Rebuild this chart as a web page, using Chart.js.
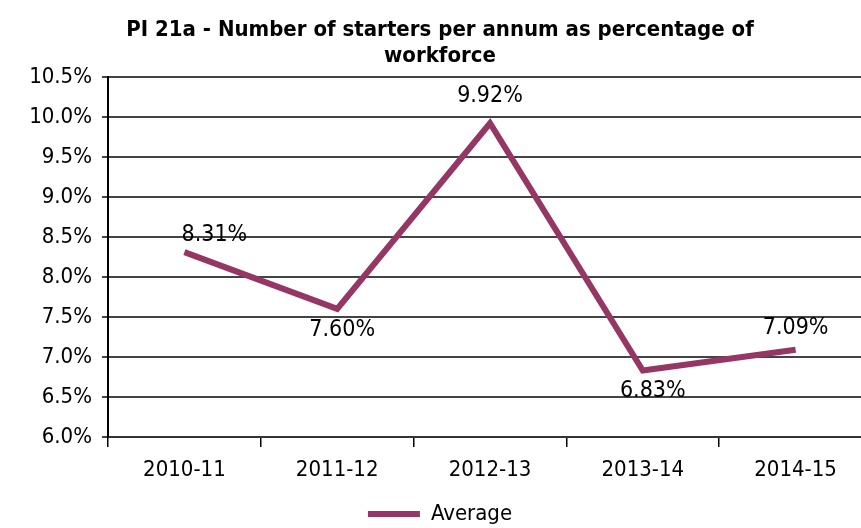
<!DOCTYPE html>
<html><head><meta charset="utf-8">
<script src="https://cdn.jsdelivr.net/npm/chart.js@4"></script>
<style>html,body{margin:0;padding:0;overflow:hidden;background:#fff}#wrap{width:872px;height:528px;position:relative}</style>
</head><body><div id="wrap"><canvas id="c"></canvas></div>
<script>
const categories = ['2010-11','2011-12','2012-13','2013-14','2014-15'];
const averageValues = [8.31, 7.60, 9.92, 6.83, 7.09];
const titleLines = ['PI 21a - Number of starters per annum as percentage of','workforce'];
const FONT = "'DejaVu Sans Condensed','Liberation Sans Narrow',sans-serif";

// label offsets (styling only)
const LABEL_OFFSETS = [[30,-17],[5,21],[0,-27],[10,20],[0,-22]];

const labelPlugin = {
  id: 'vlabels',
  afterDatasetsDraw(chart) {
    const ctx = chart.ctx;
    const meta = chart.getDatasetMeta(0);
    ctx.save();
    ctx.font = '23px ' + FONT;
    ctx.fillStyle = '#000';
    ctx.textAlign = 'center';
    ctx.textBaseline = 'middle';
    meta.data.forEach((pt, i) => {
      const txt = averageValues[i].toFixed(2) + '%';
      const [dx, dy] = LABEL_OFFSETS[i];
      ctx.fillText(txt, pt.x + dx, pt.y + dy);
    });
    ctx.restore();
  }
};

new Chart(document.getElementById('c'), {
  type: 'line',
  data: {
    labels: categories,
    datasets: [{
      label: 'Average',
      data: averageValues,
      borderColor: '#953665',
      backgroundColor: '#953665',
      borderWidth: 6,
      pointRadius: 0,
      tension: 0,
      fill: false
    }]
  },
  options: {
    responsive: true,
    maintainAspectRatio: false,
    animation: false,
    layout: { padding: { left: 8, right: 0, top: 0, bottom: -7 } },
    plugins: {
      title: {
        display: true,
        text: titleLines,
        font: { family: FONT, size: 22, weight: 'bold' },
        color: '#000',
        padding: { top: 17, bottom: 7 },
        lineHeight: 1.12
      },
      legend: {
        position: 'bottom',
        labels: {
          font: { family: FONT, size: 22 },
          color: '#000',
          boxWidth: 52,
          boxHeight: 6,
          padding: 1,
          generateLabels(chart) {
            return [{ text: 'Average', fillStyle: '#953665', strokeStyle: '#953665', lineWidth: 0, datasetIndex: 0 }];
          }
        }
      },
      tooltip: { enabled: false }
    },
    scales: {
      x: {
        offset: true,
        grid: { display: true, offset: true, drawOnChartArea: false, drawTicks: true, tickLength: 10, color: '#000', lineWidth: 1.5 },
        border: { display: true, color: '#333', width: 2 },
        ticks: { font: { family: FONT, size: 22 }, color: '#000', padding: 10 },
        afterFit(s) { s.height = 65; }
      },
      y: {
        min: 6.0,
        max: 10.5,
        ticks: {
          stepSize: 0.5,
          font: { family: FONT, size: 22 },
          color: '#000',
          padding: 10,
          callback: v => v.toFixed(1) + '%'
        },
        grid: { color: '#444', lineWidth: 2, tickLength: 6 },
        border: { display: true, color: '#000', width: 2 },
        afterFit(s) { s.width = 100; }
      }
    }
  },
  plugins: [labelPlugin]
});
</script></body></html>
